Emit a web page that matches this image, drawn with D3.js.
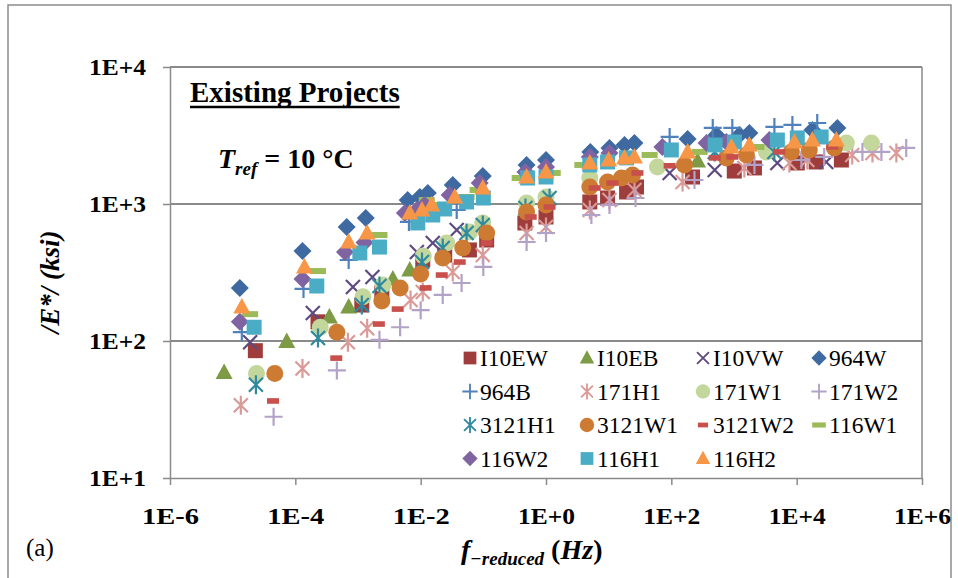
<!DOCTYPE html>
<meta charset="utf-8">
<script src="https://d3js.org/d3.v7.min.js"></script>
<style>
  body { margin: 0; background: #fff; }
  svg text { font-family: "Liberation Serif", "Times New Roman", Times, "DejaVu Serif", serif; }
</style>
<div id="chart"></div>
<script>
// data: [frequency (Hz), |E*| (ksi)]
var I10EW = [[2.3e-5,85],[2.3e-4,138],[1.15e-3,183],[2.4e-3,224],[0.0108,390],[0.0242,424],[0.06,462],[0.113,546],
  [0.46,727],[1.0,804],[5.0,1035],[9.6,1106],[19.3,1224],[27.8,1331],[218,1574],[1010,1740],[2120,1833],[10240,1993],[20500,2027],[51700,2095]];
var I10EB = [[7.3e-6,59],[7.3e-5,99],[3.5e-4,150],[7.1e-4,177],[3.6e-3,284],[6.7e-3,330],[262,2060]];
var I10VW = [[1.9e-5,98],[1.9e-4,160],[8.3e-4,248],[1.7e-3,293],[8.7e-3,446],[0.0156,519],[0.0376,646],
  [94,1685],[492,1772],[4920,1993],[29600,2027]];
var W964 = [[1.3e-5,244],[1.3e-4,454],[6.6e-4,680],[1.33e-3,790],[6.2e-3,1069],[9.7e-3,1125],[0.013,1203],[0.0325,1376],
  [0.098,1601],[0.49,1928],[1.0,2095],[5.1,2400],[10.3,2565],[17.9,2697],[25.8,2790],[182,2980],[525,3190],[1220,3190],
  [1760,3300],[17800,3470],[44600,3590]];
var B964 = [[1.4e-5,116],[1.35e-4,240],[7.1e-4,390],[6.5e-3,740],[0.0376,904],[94,3085],[458,3590],[940,3590],
  [4410,3650],[8550,3775],[21300,3900]];
var H171 = [[1.35e-5,34],[1.3e-4,63],[6.9e-4,98],[1.4e-3,124],[6.9e-3,199],[0.0108,228],[0.0325,319],[0.098,424],
  [0.49,614],[1.0,680],[5.0,904],[10.3,1069],[25.8,1265],[151,1448],[1465,1833],[7650,1993],[14800,2095],
  [77000,2280],[162000,2357],[390000,2357]];
var W171_1 = [[2.4e-5,58],[2.5e-4,126],[1.2e-3,210],[2.5e-3,256],[0.011,417],[0.026,519],[0.0605,625],[0.098,727],
  [0.49,1017],[1.0,1125],[5.0,1548],[60,1864],[3290,2400],[62000,2790],[156000,2790]];
var W171_2 = [[4.5e-5,28],[4.6e-4,61],[2.2e-3,102],[4.7e-3,126],[0.01,168],[0.0225,217],[0.045,265],[0.1,347],
  [0.49,528],[1.0,614],[5.3,831],[10.3,984],[26.8,1106],[234,1497],[2120,1928],[11900,2095],[27500,2205],
  [112000,2400],[225000,2400],[560000,2565]];
var H3121 = [[2.35e-5,48],[2.3e-4,105],[1.15e-3,183],[2.2e-3,252],[0.0105,377],[0.0225,477],[0.054,614],[0.098,703],
  [0.47,935],[1.14,1106],[492,2400],[4410,2400]];
var W3121_1 = [[4.7e-5,58],[4.6e-4,116],[2.4e-3,196],[4.7e-3,244],[0.01,308],[0.0225,403],[0.047,477],[0.113,614],
  [0.49,875],[1.0,984],[5.0,1331],[9.6,1448],[16,1548],[24,1629],[162,1928],[755,2170],[1580,2280],[8240,2400],
  [15900,2480],[40000,2565]];
var W3121_2 = [[4.4e-5,36.5],[4.5e-4,75],[2.15e-3,133],[4.3e-3,171],[0.012,244],[0.0217,303],[0.042,377],[0.113,519],
  [0.57,804],[1.14,951],[6.0,1309],[11.5,1423],[28.8,1685],[94,1900],[492,2170],[940,2205],[5300,2400],[37000,2607]];
var W116_1 = [[1.9e-5,157],[2.3e-4,324],[2.2e-3,594],[0.0125,1069],[0.0225,984],[0.054,1125],[0.081,1265],
  [0.38,1548],[1.28,1685],[3.8,1928],[45,2280],[283,2400],[2280,2607]];
var W116_2 = [[1.3e-5,138],[1.3e-4,284],[6.2e-4,446],[1.27e-3,524],[5.6e-3,860],[8.7e-3,904],[0.0116,984],[0.029,1163],
  [0.0875,1423],[0.47,1713],[1.0,1864],[5.0,2205],[10.3,2357],[72,2607],[364,2790],[755,2835],[3670,2930]];
var H116_1 = [[2.2e-5,126],[2.2e-4,252],[1.07e-3,439],[2.2e-3,485],[9.0e-3,727],[0.0156,831],[0.0242,920],[0.054,1035],
  [0.1,1106],[0.51,1548],[1.0,1574],[5.0,1928],[9.6,2027],[19.3,2170],[100,2480],[500,2697],[1014,2835],
  [4920,2930],[10240,3035],[24600,3085]];
var H116_2 = [[1.4e-5,177],[1.4e-4,347],[7.1e-4,528],[1.4e-3,614],[6.7e-3,860],[0.0105,904],[0.015,984],[0.035,1125],
  [0.098,1309],[0.49,1574],[1.0,1713],[5.0,1993],[10,2095],[17.9,2170],[25.8,2205],[182,2400],[910,2607],
  [1760,2697],[9200,2835],[17800,2930],[43000,2930]];

var seriesNames = ["I10EW","I10EB","I10VW","964W","964B","171H1","171W1","171W2",
                   "3121H1","3121W1","3121W2","116W1","116W2","116H1","116H2"];
var seriesData = [I10EW, I10EB, I10VW, W964, B964, H171, W171_1, W171_2,
                  H3121, W3121_1, W3121_2, W116_1, W116_2, H116_1, H116_2];

var xTicks = [1e-6, 1e-4, 1e-2, 1, 1e2, 1e4, 1e6];
var xTickLabels = ["1E-6","1E-4","1E-2","1E+0","1E+2","1E+4","1E+6"];
var yTicks = [10, 100, 1000, 10000];
var yTickLabels = ["1E+1","1E+2","1E+3","1E+4"];

// marker styles, same order as seriesNames
var markers = [
  {shape: "square",   color: "#9e3d3b"},
  {shape: "triangle", color: "#7d9a45"},
  {shape: "x",        color: "#5f4a80"},
  {shape: "diamond",  color: "#3e6aa1"},
  {shape: "plus",     color: "#4f81bd"},
  {shape: "star",     color: "#da9a97"},
  {shape: "circle",   color: "#c3d69b"},
  {shape: "plus",     color: "#b3a2c7"},
  {shape: "star",     color: "#2f8aa0"},
  {shape: "circle",   color: "#cd7b33"},
  {shape: "dash",     color: "#c84f4c"},
  {shape: "longdash", color: "#9bbb59"},
  {shape: "diamond",  color: "#8064a2"},
  {shape: "square",   color: "#4bacc6"},
  {shape: "triangle", color: "#f79646"}
];

var SERIF = "'Liberation Serif', 'Times New Roman', Times, 'DejaVu Serif', serif";
var W = 958, H = 578;
var svg = d3.select("#chart").append("svg")
    .attr("width", W).attr("height", H)
    .attr("font-family", SERIF);

// outer chart frame
svg.append("rect")
    .attr("x", 8).attr("y", 5).attr("width", 943).attr("height", 640)
    .attr("fill", "none").attr("stroke", "#8c8c8c").attr("stroke-width", 1.5);

var x = d3.scaleLog().domain([1e-6, 1e6]).range([170, 922]);
var y = d3.scaleLog().domain([10, 1e4]).range([478, 67]);

// grid lines
svg.append("g").selectAll("line").data(yTicks.slice(1)).enter().append("line")
    .attr("x1", 170).attr("x2", 922)
    .attr("y1", function(d) { return y(d); }).attr("y2", function(d) { return y(d); })
    .attr("stroke", "#8a8a8a").attr("stroke-width", 2);
// right border of plot area
svg.append("line").attr("x1", 922).attr("x2", 922).attr("y1", 67).attr("y2", 478)
    .attr("stroke", "#8a8a8a").attr("stroke-width", 1.5);

// axes
var xAxis = svg.append("g")
    .attr("transform", "translate(0,478)")
    .call(d3.axisBottom(x).tickValues(xTicks).tickSize(7).tickSizeOuter(0).tickPadding(22)
      .tickFormat(function(d, i) { return xTickLabels[i]; }));
var yAxis = svg.append("g")
    .attr("transform", "translate(170,0)")
    .call(d3.axisLeft(y).tickValues(yTicks).tickSize(7).tickSizeOuter(0).tickPadding(17)
      .tickFormat(function(d, i) { return yTickLabels[i]; }));
[xAxis, yAxis].forEach(function(a) {
  a.attr("font-family", SERIF).attr("font-size", 24);
  a.select(".domain").attr("stroke", "#8a8a8a").attr("stroke-width", 1.5);
  a.selectAll(".tick line").attr("stroke", "#8a8a8a").attr("stroke-width", 1.5);
  a.selectAll(".tick text")
    .attr("fill", "#000")
    .attr("font-weight", "bold")
    .attr("textLength", 57)
    .attr("lengthAdjust", "spacingAndGlyphs");
});

// marker path generator
function markerPath(shape) {
  switch (shape) {
    case "square":   return "M-7.5,-7.5H7.5V7.5H-7.5Z";
    case "triangle": return "M0,-9L8.5,6.5H-8.5Z";
    case "diamond":  return "M0,-9L9,0L0,9L-9,0Z";
    case "circle":   return d3.symbol().type(d3.symbolCircle).size(Math.PI * 8.5 * 8.5)();
    case "x":        return "M-7,-7L7,7M-7,7L7,-7";
    case "star":     return "M-7,-7L7,7M-7,7L7,-7M0,-9.5V9.5";
    case "plus":     return "M-9,0H9M0,-9V9";
    case "dash":     return "M-6,-2.8H6V2.8H-6Z";
    case "longdash": return "M-8,-3H8V3H-8Z";
  }
}
function isLine(shape) { return shape === "x" || shape === "star" || shape === "plus"; }

function drawMarker(sel, m) {
  sel.attr("d", markerPath(m.shape))
    .attr("fill", isLine(m.shape) ? "none" : m.color)
    .attr("stroke", isLine(m.shape) ? m.color : "none")
    .attr("stroke-width", isLine(m.shape) ? 2.2 : 0);
}

// points, first series drawn first
var pts = svg.append("g");
seriesData.forEach(function(data, i) {
  var m = markers[i];
  pts.append("g").selectAll("path").data(data).enter().append("path")
    .attr("transform", function(d) { return "translate(" + x(d[0]) + "," + y(d[1]) + ")"; })
    .call(drawMarker, m);
});

// legend (4 columns)
var legCols = [470, 587, 703, 819], legRows = [358, 391.5, 425, 458.5];
var leg = svg.append("g");
seriesNames.forEach(function(name, i) {
  var cx = legCols[i % 4], cy = legRows[Math.floor(i / 4)];
  var m = markers[i];
  leg.append("path").attr("transform", "translate(" + cx + "," + cy + ") scale(0.85)").call(drawMarker, m);
  leg.append("text").attr("x", cx + 10).attr("y", cy + 8)
    .attr("font-size", 23.5).text(name);
});

// annotations
var title = svg.append("text").attr("x", 190).attr("y", 102)
    .attr("font-size", 29).attr("font-weight", "bold").text("Existing Projects");
var tl = title.node().getComputedTextLength();
svg.append("line").attr("x1", 190).attr("x2", 190 + tl).attr("y1", 107).attr("y2", 107)
    .attr("stroke", "#000").attr("stroke-width", 2.5);

var tref = svg.append("text").attr("x", 218).attr("y", 168)
    .attr("font-size", 28).attr("font-weight", "bold");
tref.append("tspan").attr("font-style", "italic").text("T");
tref.append("tspan").attr("font-style", "italic").attr("font-size", 19).attr("dy", 7).text("ref");
tref.append("tspan").attr("dy", -7).text(" = 10 \u00B0C");

var xl = svg.append("text").attr("x", 461).attr("y", 559)
    .attr("font-size", 28).attr("font-weight", "bold").attr("font-style", "italic");
xl.append("tspan").text("f");
xl.append("tspan").attr("font-size", 19).attr("dy", 6).text("\u2212reduced");
xl.append("tspan").attr("dy", -6).attr("font-style", "normal").text(" (");
xl.append("tspan").text("Hz");
xl.append("tspan").attr("font-style", "normal").text(")");

svg.append("text")
    .attr("transform", "translate(59,282) rotate(-90)")
    .attr("text-anchor", "middle")
    .attr("font-size", 27).attr("font-weight", "bold").attr("font-style", "italic")
    .text("/E*/ (ksi)");

svg.append("text").attr("x", 26).attr("y", 556).attr("font-size", 25).text("(a)");
</script>
